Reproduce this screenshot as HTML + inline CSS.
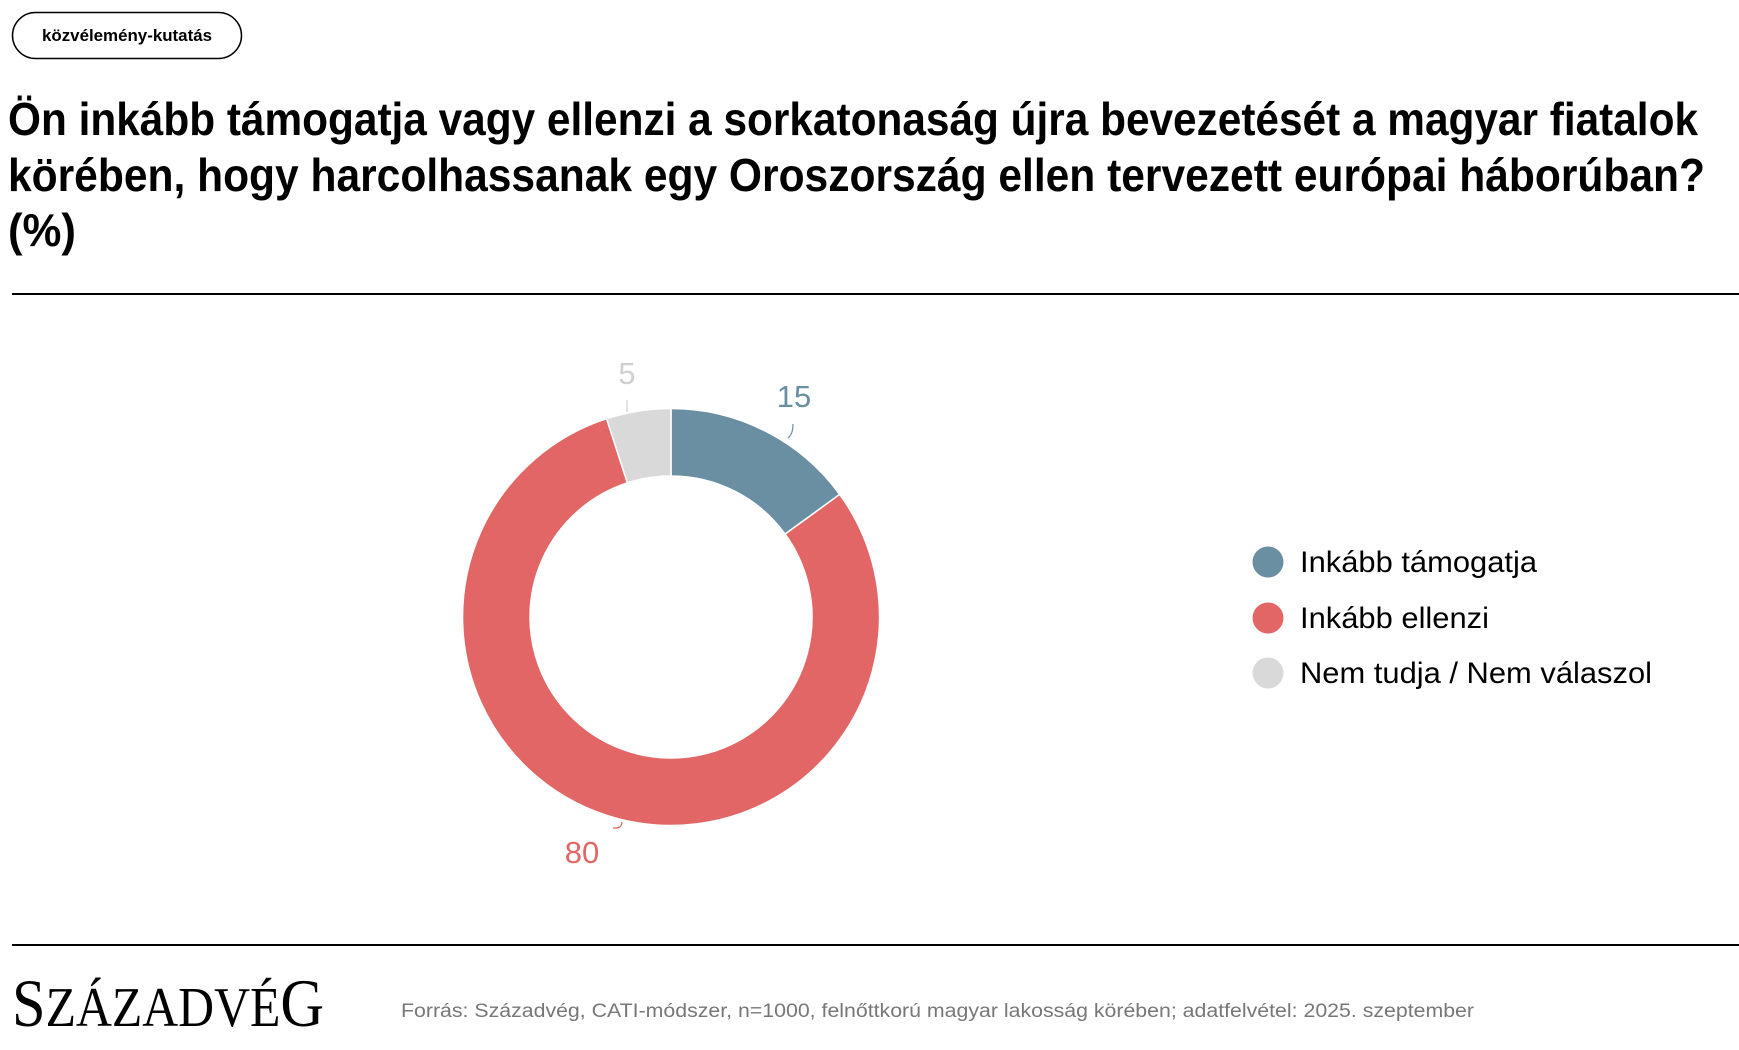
<!DOCTYPE html>
<html><head><meta charset="utf-8"><style>
html,body{margin:0;padding:0;background:#fff;}
svg{display:block;}
</style></head><body>
<svg width="1739" height="1050" viewBox="0 0 1739 1050" xmlns="http://www.w3.org/2000/svg">
<rect x="12.5" y="12.5" width="229" height="46" rx="23" fill="#fff" stroke="#000" stroke-width="1.5"/>
<text x="127" y="41" text-anchor="middle" font-family="Liberation Sans, sans-serif" font-weight="bold" font-size="17" textLength="170" lengthAdjust="spacingAndGlyphs">közvélemény-kutatás</text>
<g font-family="Liberation Sans, sans-serif" font-weight="bold" font-size="46" fill="#000">
<text x="8" y="135" textLength="1690" lengthAdjust="spacingAndGlyphs">Ön inkább támogatja vagy ellenzi a sorkatonaság újra bevezetését a magyar fiatalok</text>
<text x="8" y="191" textLength="1697" lengthAdjust="spacingAndGlyphs">körében, hogy harcolhassanak egy Oroszország ellen tervezett európai háborúban?</text>
<text x="8" y="246" textLength="68" lengthAdjust="spacingAndGlyphs">(%)</text>
</g>
<rect x="12" y="293" width="1727" height="2" fill="#000"/>
<g transform="translate(671,617)">
<path d="M0,-208.5 A208.5,208.5 0 0 1 168.7,-122.6 L114.1,-82.9 A141,141 0 0 0 0,-141 Z" fill="#6a8fa3" stroke="#fff" stroke-width="1.5"/>
<path d="M168.7,-122.6 A208.5,208.5 0 1 1 -64.4,-198.3 L-43.6,-134.1 A141,141 0 1 0 114.1,-82.9 Z" fill="#e26665" stroke="#fff" stroke-width="1.5"/>
<path d="M-64.4,-198.3 A208.5,208.5 0 0 1 0,-208.5 L0,-141 A141,141 0 0 0 -43.6,-134.1 Z" fill="#d9d9d9" stroke="#fff" stroke-width="1.5"/>
</g>
<g font-family="Liberation Sans, sans-serif" font-size="31">
<text x="794" y="407" text-anchor="middle" fill="#6a8fa3">15</text>
<text x="627" y="384" text-anchor="middle" fill="#d0d0d0">5</text>
<text x="582" y="863" text-anchor="middle" fill="#e26665">80</text>
</g>
<path d="M793,424 q0,10 -5,14" stroke="#6a8fa3" stroke-width="1.2" fill="none"/>
<path d="M627,400 v12" stroke="#d0d0d0" stroke-width="1.2" fill="none"/>
<path d="M622,822 q0,5 -5,6 h-4" stroke="#e26665" stroke-width="1.2" fill="none"/>
<circle cx="1268" cy="562" r="15.5" fill="#6a8fa3"/>
<circle cx="1268" cy="618" r="15.5" fill="#e26665"/>
<circle cx="1268" cy="673" r="15.5" fill="#d9d9d9"/>
<g font-family="Liberation Sans, sans-serif" font-size="30" fill="#000">
<text x="1300" y="572" textLength="237" lengthAdjust="spacingAndGlyphs">Inkább támogatja</text>
<text x="1300" y="628" textLength="189" lengthAdjust="spacingAndGlyphs">Inkább ellenzi</text>
<text x="1300" y="683" textLength="352" lengthAdjust="spacingAndGlyphs">Nem tudja / Nem válaszol</text>
</g>
<rect x="12" y="944" width="1727" height="2" fill="#000"/>
<text x="12" y="1026" font-family="Liberation Serif, serif" font-size="68" fill="#000" textLength="312" lengthAdjust="spacingAndGlyphs">S<tspan font-size="56">ZÁZADVÉ</tspan>G</text>
<text x="401" y="1017" font-family="Liberation Sans, sans-serif" font-size="19" fill="#777" textLength="1073" lengthAdjust="spacingAndGlyphs">Forrás: Századvég, CATI-módszer, n=1000, felnőttkorú magyar lakosság körében; adatfelvétel: 2025. szeptember</text>
</svg>
</body></html>
